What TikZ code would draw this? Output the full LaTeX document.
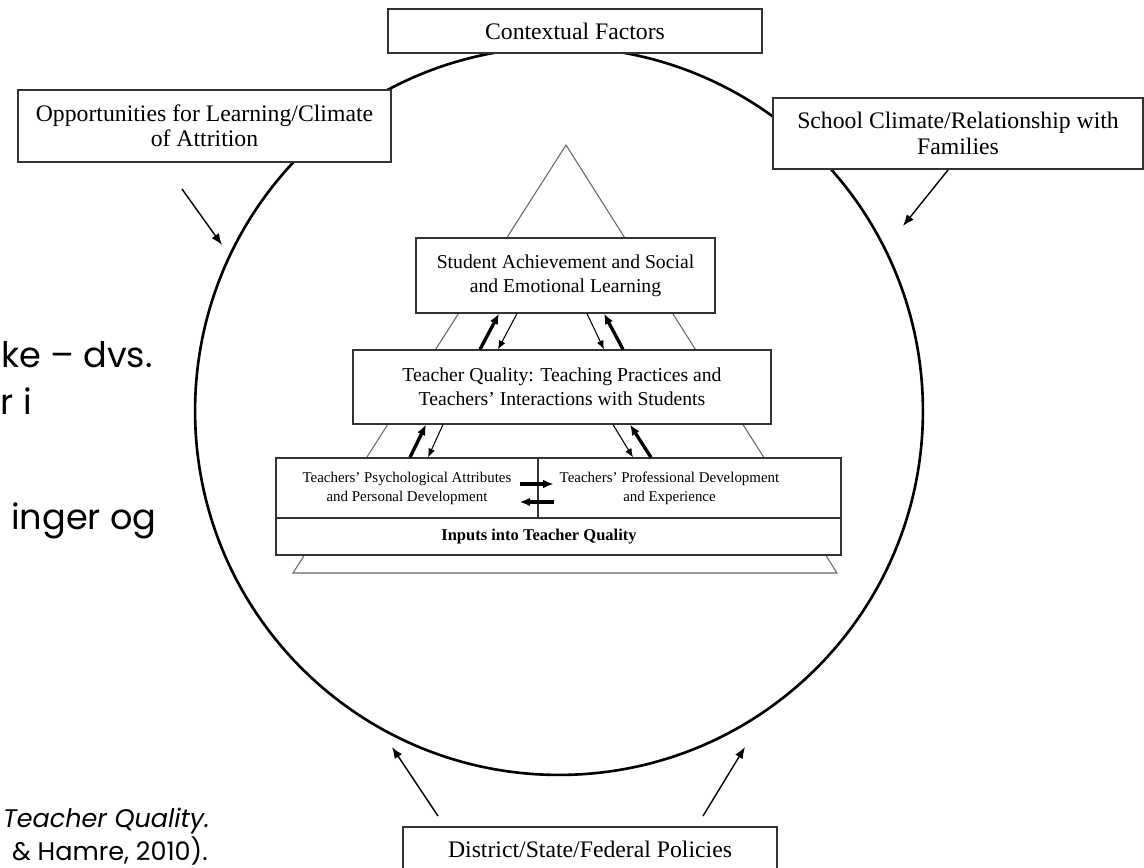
\documentclass[tikz,border=0pt]{standalone}
\usepackage{fontspec}
\setmainfont{Liberation Serif}
\newfontfamily\slidefont{Poppins}
\usetikzlibrary{arrows.meta}
\tikzset{>=latex}
\tikzset{
  fatarrow/.style={->,>={Latex[length=6pt,width=5pt]},line width=1.9pt},
  slimarrow/.style={->,>={Latex[length=5pt,width=4pt]},line width=0.6pt},
  outerarrow/.style={->,>={Latex[length=6.5pt,width=5pt]},line width=0.8pt}
}

\begin{document}
\begin{tikzpicture}[x=0.02cm,y=-0.02cm]
\useasboundingbox (0,0) rectangle (1144,868);

% circle and pyramid
\draw[line width=1.5pt] (559,411) circle (7.28cm);
\draw[black!60,line width=0.6pt] (566,145) -- (293,573) -- (837,573) -- cycle;

\begin{scope}[every node/.style={draw=black!80,line width=0.7pt,fill=white,align=center,inner sep=2pt}]
\node[minimum width=7.48cm,minimum height=0.88cm,font=\fontsize{13.5}{14}\selectfont] (ctx) at (575,31) {Contextual Factors};
\node[minimum width=7.46cm,minimum height=1.44cm,font=\fontsize{13.5}{14.4}\selectfont] (opp) at (204.5,126) {Opportunities for Learning/Climate\\of Attrition};
\node[minimum width=7.40cm,minimum height=1.42cm,font=\fontsize{13.5}{14.4}\selectfont] (scl) at (958,133.5) {School Climate/Relationship with\\Families};
\node[minimum width=7.48cm,minimum height=0.88cm,font=\fontsize{13.5}{14}\selectfont] (pol) at (590,849) {District/State/Federal Policies};
\node[minimum width=5.98cm,minimum height=1.5cm,font=\fontsize{11.2}{13.8}\selectfont] (ach) at (565.5,275.5) {Student Achievement and Social\\and Emotional Learning};
\node[minimum width=8.36cm,minimum height=1.48cm,font=\fontsize{11.2}{13.8}\selectfont] (tq) at (562,387) {Teacher Quality: Teaching Practices and\\Teachers' Interactions with Students};
\node[minimum width=5.24cm,minimum height=1.2cm,font=\fontsize{8.5}{10.8}\selectfont] (psy) at (407,488) {Teachers' Psychological Attributes\\and Personal Development};
\node[minimum width=6.06cm,minimum height=1.2cm,font=\fontsize{8.5}{10.8}\selectfont] (pro) at (689.5,488) {\begin{tabular}{@{}c@{}}Teachers' Professional Development\\and Experience\end{tabular}\hspace*{0.8cm}};
\node[minimum width=11.3cm,minimum height=0.74cm,font=\bfseries\fontsize{9.4}{11}\selectfont] (inp) at (558.5,536.5) {Inputs into Teacher Quality\hspace*{0.78cm}};
\end{scope}

% arrows inside the pyramid
\draw[fatarrow] (480,0 |- tq.north) -- (499,0 |- ach.south);
\draw[slimarrow] (517,0 |- ach.south) -- (498,0 |- tq.north);
\draw[slimarrow] (587,0 |- ach.south) -- (604,0 |- tq.north);
\draw[fatarrow] (623,0 |- tq.north) -- (604,0 |- ach.south);

\draw[fatarrow] (410,0 |- psy.north) -- (426,0 |- tq.south);
\draw[slimarrow] (443,0 |- tq.south) -- (428,0 |- psy.north);
\draw[slimarrow] (613,0 |- tq.south) -- (633,0 |- pro.north);
\draw[fatarrow] (651,0 |- pro.north) -- (630,0 |- tq.south);

\draw[fatarrow] ([xshift=-0.38cm,yshift=0.08cm]psy.east) -- ([xshift=0.3cm,yshift=0.08cm]psy.east);
\draw[fatarrow] ([xshift=0.3cm,yshift=-0.28cm]psy.east) -- ([xshift=-0.38cm,yshift=-0.28cm]psy.east);

% arrows onto the circle
\coordinate (oppA) at (182,189);
\coordinate (oppB) at (222,245);
\coordinate (sclA) at (948,170);
\coordinate (sclB) at (903,226);
\coordinate (polA) at (438,816);
\coordinate (polB) at (392,747);
\coordinate (polC) at (703,816);
\coordinate (polD) at (745,747);
\draw[outerarrow] (oppA) -- (oppB);
\draw[outerarrow] (sclA) -- (sclB);
\draw[outerarrow] (polA) -- (polB);
\draw[outerarrow] (polC) -- (polD);

% slide text cut at the left edge
\begin{scope}[every node/.style={anchor=base east,inner sep=0pt}]
\node[font=\slidefont\fontsize{20}{24}\selectfont] (lineA) at (153,368) {ke – dvs.};
\node[font=\slidefont\fontsize{20}{24}\selectfont] (lineB) at (32,415) {r i};
\node[font=\slidefont\fontsize{20}{24}\selectfont] (lineC) at (157,530) {inger og};
\node[font=\slidefont\itshape\fontsize{14.5}{17}\selectfont] (refA) at (210,827) {Teacher Quality.};
\node[font=\slidefont\fontsize{14.5}{17}\selectfont] (refB) at (208,860) {\& Hamre, 2010).};
\end{scope}
\end{tikzpicture}
\end{document}
